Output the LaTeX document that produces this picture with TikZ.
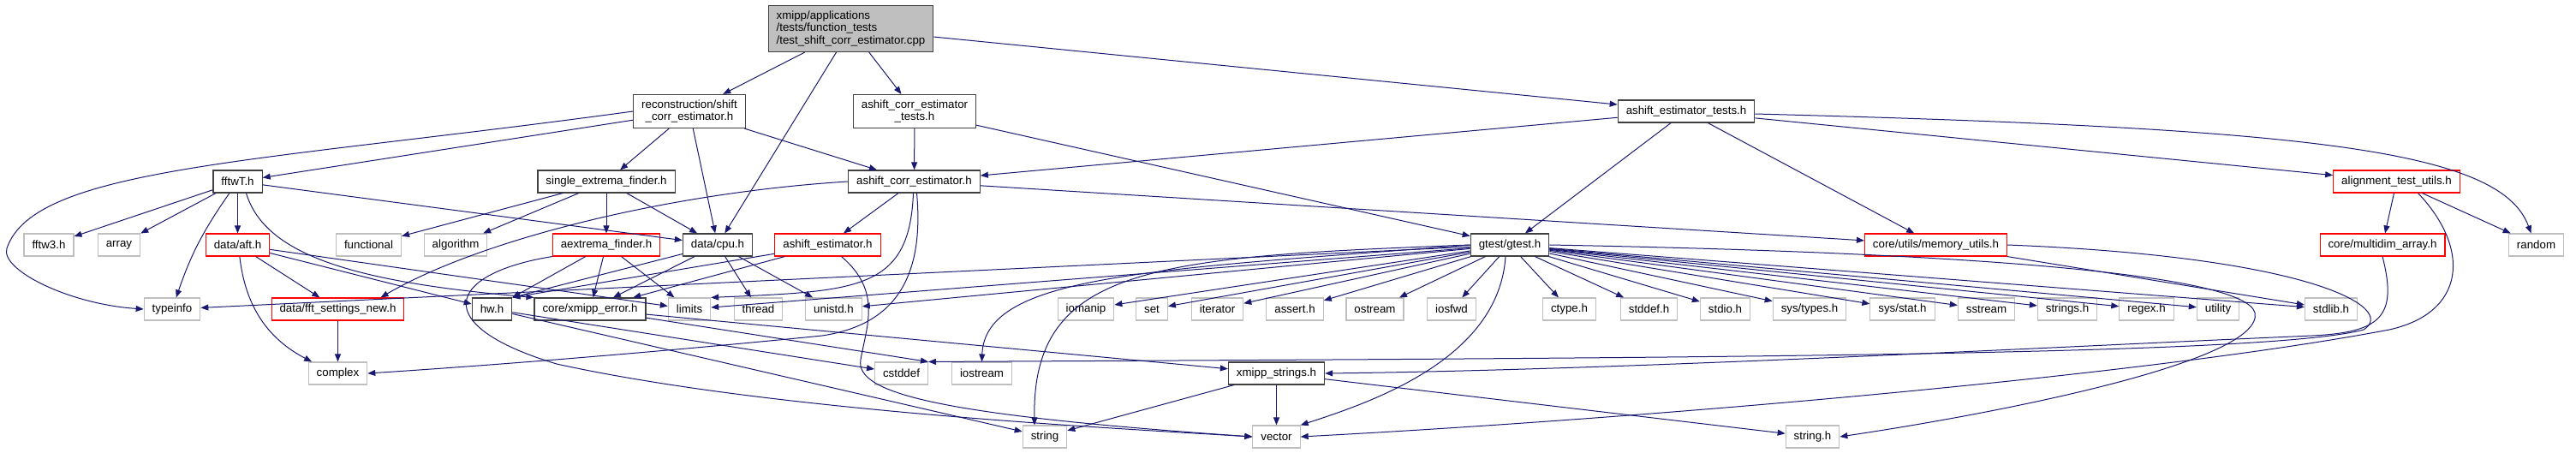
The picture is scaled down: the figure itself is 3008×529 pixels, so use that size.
\documentclass[tikz,border=0pt]{standalone}
\usepackage{fontspec}
\setmainfont{Liberation Sans}
\usepackage{tikz}
\usetikzlibrary{arrows.meta}
\definecolor{edgeblue}{HTML}{191970}
\definecolor{boxgrey}{HTML}{BFBFBF}
\definecolor{boxdark}{HTML}{404040}

\begin{document}
\begin{tikzpicture}[
    x=1pt, y=1pt,
    filebox/.style={draw, minimum height=26pt, inner xsep=9.5pt, inner ysep=6pt, align=center, font=\fontsize{13.3}{14.7}\selectfont},
    headerbox/.style={filebox, draw=boxdark, line width=1.2pt},
    truncbox/.style={filebox, draw=red, line width=1.1pt},
    systembox/.style={filebox, draw=boxgrey, line width=1.1pt},
    sourcebox/.style={filebox, draw=boxdark, fill=boxgrey, line width=1.2pt, align=left},
    arrow/.style={-{Triangle[length=9pt, width=7pt]}, color=edgeblue, line width=1pt}
]
\useasboundingbox (0,0) rectangle (3008,-529);

% Source file
\node[sourcebox] (root) at (993.5,-33.5) {xmipp/applications\\/tests/function\_tests\\/test\_shift\_corr\_estimator.cpp};

% First level
\node[headerbox] (recon) at (805,-130) {reconstruction/shift\\\_corr\_estimator.h};
\node[headerbox] (actests) at (1068,-130) {ashift\_corr\_estimator\\\_tests.h};
\node[headerbox] (astests) at (1969,-130) {ashift\_estimator\_tests.h};

% Second level
\node[headerbox] (fftw) at (277.5,-212) {fftwT.h};
\node[headerbox] (sefinder) at (708,-212) {single\_extrema\_finder.h};
\node[headerbox] (acest) at (1067.5,-212) {ashift\_corr\_estimator.h};
\node[truncbox] (alutils) at (2798.5,-212) {alignment\_test\_utils.h};

% Third level
\node[systembox] (fftwthree) at (57,-286) {fftw3.h};
\node[systembox] (array) at (139,-286) {array};
\node[truncbox] (aft) at (277.5,-286) {data/aft.h};
\node[systembox] (functional) at (430.5,-286) {functional};
\node[systembox] (algorithm) at (532,-286) {algorithm};
\node[truncbox] (aextrema) at (708,-286) {aextrema\_finder.h};
\node[headerbox] (cpu) at (838,-286) {data/cpu.h};
\node[truncbox] (aest) at (966.5,-286) {ashift\_estimator.h};
\node[headerbox] (gtest) at (1763,-286) {gtest/gtest.h};
\node[truncbox] (memutils) at (2260.5,-286) {core/utils/memory\_utils.h};
\node[truncbox] (multidim) at (2782,-286) {core/multidim\_array.h};
\node[systembox] (random) at (2961.5,-286) {random};

% Fourth level
\node[systembox] (typeinfo) at (201,-361) {typeinfo};
\node[truncbox] (fftset) at (394.5,-361) {data/fft\_settings\_new.h};
\node[headerbox] (hw) at (574.5,-361) {hw.h};
\node[headerbox] (xerr) at (689,-361) {core/xmipp\_error.h};
\node[systembox] (limits) at (805,-361) {limits};
\node[systembox] (thread) at (885.5,-361) {thread};
\node[systembox] (unistd) at (973.5,-361) {unistd.h};
\node[systembox] (iomanip) at (1268,-361) {iomanip};
\node[systembox] (set) at (1345,-361) {set};
\node[systembox] (iterator) at (1421.5,-361) {iterator};
\node[systembox] (asserth) at (1512,-361) {assert.h};
\node[systembox] (ostream) at (1605.5,-361) {ostream};
\node[systembox] (iosfwd) at (1695,-361) {iosfwd};
\node[systembox] (ctype) at (1832.5,-361) {ctype.h};
\node[systembox] (stddef) at (1925.5,-361) {stddef.h};
\node[systembox] (stdio) at (2014.5,-361) {stdio.h};
\node[systembox] (systypes) at (2113,-361) {sys/types.h};
\node[systembox] (sysstat) at (2221.5,-361) {sys/stat.h};
\node[systembox] (sstream) at (2319.5,-361) {sstream};
\node[systembox] (stringsh) at (2414,-361) {strings.h};
\node[systembox] (regex) at (2506.5,-361) {regex.h};
\node[systembox] (utility) at (2590,-361) {utility};
\node[systembox] (stdlib) at (2722,-361) {stdlib.h};

% Fifth level
\node[systembox] (complex) at (394.5,-436) {complex};
\node[systembox] (cstddef) at (1052.5,-436) {cstddef};
\node[systembox] (iostream) at (1146.5,-436) {iostream};
\node[headerbox] (xstrings) at (1490.5,-436) {xmipp\_strings.h};

% Bottom level
\node[systembox] (string) at (1220,-510) {string};
\node[systembox] (vector) at (1490.5,-510) {vector};
\node[systembox] (stringh) at (2116.5,-510) {string.h};

% Source includes
\draw[arrow] (root) -- (recon);
\draw[arrow] (root) -- (cpu);
\draw[arrow] (root) -- (actests);
\draw[arrow] (root) -- (astests);

% reconstruction/shift_corr_estimator.h
\draw[arrow] (recon.west) .. controls (300,-190) and (40,-195) .. (8,-290) .. controls (0,-315) and (80,-355) .. (typeinfo.west);
\draw[arrow] (recon) -- (fftw);
\draw[arrow] (recon) -- (sefinder);
\draw[arrow] (recon) -- (cpu);
\draw[arrow] (recon) -- (acest);

% Test headers
\draw[arrow] (actests) -- (acest);
\draw[arrow] (actests) -- (gtest);
\draw[arrow] (astests) -- (acest);
\draw[arrow] (astests) -- (gtest);
\draw[arrow] (astests) -- (memutils);
\draw[arrow] (astests) -- (alutils);
\draw[arrow] ([yshift=-3pt]astests.east) .. controls (2700,-150) and (2920,-175) .. ([xshift=-6pt]random.north);

% fftwT.h
\draw[arrow] (fftw) -- (fftwthree);
\draw[arrow] (fftw) -- (array);
\draw[arrow] (fftw) to[bend right=8] (typeinfo);
\draw[arrow] (fftw) -- (aft);
\draw[arrow] (fftw) -- (cpu);
\draw[arrow] ([xshift=10pt]fftw.south) .. controls (310,-300) and (420,-330) .. (xerr.north west);

% data/aft.h
\draw[arrow] (aft) -- (fftset);
\draw[arrow] (aft) to[bend right=28] (complex);
\draw[arrow] (aft) -- (hw);
\draw[arrow] (aft) -- (limits);

% single_extrema_finder.h
\draw[arrow] (sefinder) -- (functional);
\draw[arrow] (sefinder) -- (algorithm);
\draw[arrow] (sefinder) -- (aextrema);
\draw[arrow] (sefinder) -- (cpu);

% ashift_corr_estimator.h
\draw[arrow] (acest.west) .. controls (780,-225) and (560,-280) .. ([xshift=50pt]fftset.north);
\draw[arrow] (acest) -- (aest);
\draw[arrow] ([xshift=-1pt]acest.south) .. controls (1062,-340) and (1000,-340) .. (limits.north east);
\draw[arrow] ([xshift=3pt]acest.south) .. controls (1080,-330) and (1040,-380) .. (960,-392) .. controls (800,-408) and (600,-425) .. (complex.east);
\draw[arrow] (acest) -- (memutils);

% alignment_test_utils.h
\draw[arrow] (alutils) -- (multidim);
\draw[arrow] (alutils) -- (random);
\draw[arrow] ([xshift=25pt]alutils.south) .. controls (2885,-290) and (2880,-365) .. (2790,-385) .. controls (2500,-440) and (1900,-490) .. (vector.east);

% data/cpu.h
\draw[arrow] (cpu) -- (hw.north east);
\draw[arrow] (cpu) -- (xerr);
\draw[arrow] (cpu) -- (thread);
\draw[arrow] (cpu) -- (unistd);

% aextrema_finder.h
\draw[arrow] (aextrema) -- (hw.north east);
\draw[arrow] (aextrema) -- (xerr);
\draw[arrow] (aextrema) -- (limits);
\draw[arrow] (aextrema.south west) .. controls (520,-320) and (500,-380) .. (650,-425) .. controls (900,-480) and (1300,-500) .. (vector.west);

% ashift_estimator.h
\draw[arrow] (aest) -- (hw.north east);
\draw[arrow] (aest) -- (xerr);
\draw[arrow] ([xshift=16pt]aest.south) .. controls (1030,-340) and (1012,-380) .. (1005,-420) .. controls (998,-460) and (1100,-485) .. (vector.west);

% hw.h, core/xmipp_error.h, data/fft_settings_new.h
\draw[arrow] (hw) -- (cstddef);
\draw[arrow] (hw) -- (string);
\draw[arrow] (xerr) -- (cstddef.north east);
\draw[arrow] (xerr) -- (xstrings);
\draw[arrow] (fftset) -- (complex);

% gtest/gtest.h
\draw[arrow] (gtest) -- (typeinfo);
\draw[arrow] (gtest) -- (limits);
\draw[arrow] (gtest) -- (unistd);
\draw[arrow] (gtest) -- (iomanip);
\draw[arrow] (gtest) -- (set);
\draw[arrow] (gtest) -- (iterator);
\draw[arrow] (gtest) -- (asserth);
\draw[arrow] (gtest) -- (ostream);
\draw[arrow] (gtest) -- (iosfwd);
\draw[arrow] (gtest) -- (ctype);
\draw[arrow] (gtest) -- (stddef);
\draw[arrow] (gtest) -- (stdio);
\draw[arrow] (gtest) -- (systypes);
\draw[arrow] (gtest) -- (sysstat);
\draw[arrow] (gtest) -- (sstream);
\draw[arrow] (gtest) -- (stringsh);
\draw[arrow] (gtest) -- (regex);
\draw[arrow] (gtest) -- (utility);
\draw[arrow] (gtest) -- (stdlib);
\draw[arrow] (gtest.west) .. controls (1350,-315) and (1150,-320) .. (iostream.north);
\draw[arrow] (gtest.west) .. controls (1350,-300) and (1205,-310) .. ([xshift=-12pt]string.north);
\draw[arrow] ([xshift=-5pt]gtest.south) .. controls (1750,-420) and (1600,-470) .. (vector.north east);
\draw[arrow] (gtest.east) .. controls (2300,-295) and (2620,-320) .. (2633,-365) .. controls (2645,-420) and (2350,-480) .. (stringh.east);

% core/utils/memory_utils.h and core/multidim_array.h
\draw[arrow] (memutils) -- (stdlib);
\draw[arrow] (memutils.east) .. controls (2700,-300) and (2800,-360) .. (2760,-385) .. controls (2650,-415) and (2000,-418) .. (cstddef.north east);
\draw[arrow] (multidim.south) .. controls (2800,-370) and (2780,-388) .. (2700,-392) .. controls (2400,-405) and (1900,-432) .. (xstrings.east);

% xmipp_strings.h
\draw[arrow] (xstrings) -- (string);
\draw[arrow] (xstrings) -- (vector);
\draw[arrow] (xstrings) -- (stringh);

\end{tikzpicture}
\end{document}
